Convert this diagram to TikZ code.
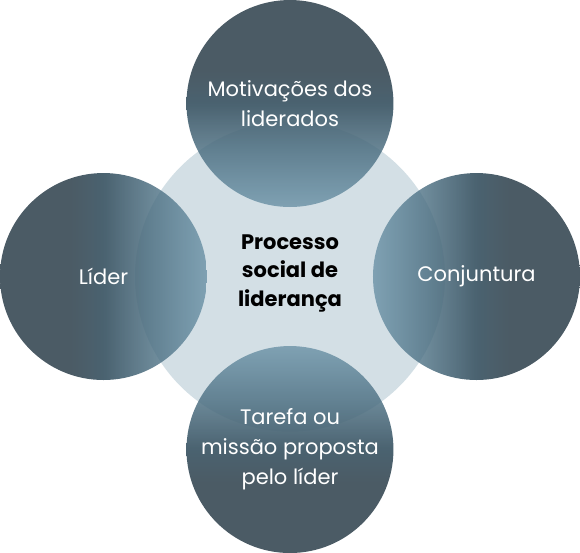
\documentclass[tikz,border=0pt]{standalone}
\usepackage{fontspec}
\setmainfont{Poppins}
\usetikzlibrary{fadings}
\definecolor{darkslate}{RGB}{75,91,101}
\definecolor{innerblue}{RGB}{72,120,145}
\definecolor{centerfill}{RGB}{211,223,229}
\pgfdeclarehorizontalshading{outershade}{100bp}{color(0bp)=(darkslate); color(25bp)=(darkslate); color(42bp)=(darkslate); color(75bp)=(innerblue); color(100bp)=(innerblue)}
\tikzfading[name=fadeR, left color=transparent!0, right color=transparent!40, middle color=transparent!0]
\tikzfading[name=fadeL, left color=transparent!40, right color=transparent!0, middle color=transparent!0]
\tikzfading[name=fadeT, top color=transparent!40, bottom color=transparent!0, middle color=transparent!0]
\tikzfading[name=fadeB, top color=transparent!0, bottom color=transparent!40, middle color=transparent!0]
\tikzset{
  outer/.style={circle, inner sep=0pt, minimum size=207pt, text=white, align=center,
    shading=outershade, font=\fontsize{21}{30}\selectfont},
  centre/.style={circle, inner sep=0pt, minimum size=310pt, fill=centerfill},
  centretext/.style={align=center, font=\fontsize{21}{28.5}\selectfont\bfseries},
}
\begin{document}
\begin{tikzpicture}[x=1pt,y=1pt]
\useasboundingbox (0,0) rectangle (580,553);
\node[centre] (c) at (290,276.5) {};
\node[centretext] (ct) at (290,280) {Processo\\social de\\liderança};
\node[outer, shading angle=-90, path fading=fadeB] (t) at (290,449.5) {Motivações dos\\liderados};
\node[outer, shading angle=90, path fading=fadeT] (b) at (290,103.5) {Tarefa ou\\missão proposta\\pelo líder};
\node[outer, shading angle=0, path fading=fadeR] (l) at (103.5,276.5) {Líder};
\node[outer, shading angle=180, path fading=fadeL] (r) at (476.5,276.5) {Conjuntura};
\end{tikzpicture}
\end{document}
